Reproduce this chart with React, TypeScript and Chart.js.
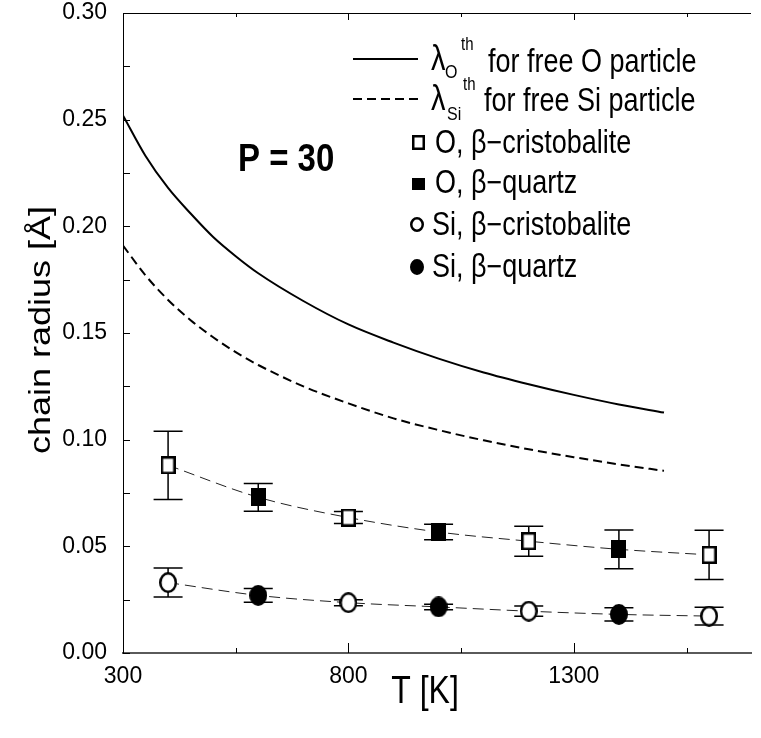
import React, { useEffect, useRef } from "react";
import { Chart, registerables } from "chart.js";

Chart.register(...registerables);

const FONT = '"Liberation Sans", Arial, Helvetica, sans-serif';

// Thermal wavelength of a free particle vs temperature
const curveT = [300, 350, 400, 450, 500, 550, 600, 700, 800, 900, 1000, 1100, 1200, 1300, 1400, 1500];
const lambdaO = [0.252, 0.233, 0.218, 0.206, 0.195, 0.186, 0.178, 0.165, 0.154, 0.1455, 0.138, 0.1315, 0.126, 0.121, 0.1165, 0.1127];
const lambdaSi = [0.191, 0.177, 0.1655, 0.156, 0.148, 0.141, 0.135, 0.125, 0.117, 0.11, 0.1045, 0.0997, 0.0955, 0.0918, 0.0884, 0.0854];

// Path-integral chain radii (P = 30) with error bars
const simT = [400, 600, 800, 1000, 1200, 1400, 1600];
const simPhase = ["cristobalite", "quartz", "cristobalite", "quartz", "cristobalite", "quartz", "cristobalite"];
const radiusO = [0.088, 0.073, 0.0635, 0.0567, 0.0524, 0.0486, 0.046];
const errorO = [0.016, 0.0065, 0.0028, 0.0036, 0.007, 0.0091, 0.0115];
const radiusSi = [0.033, 0.027, 0.0236, 0.0216, 0.0196, 0.0181, 0.0173];
const errorSi = [0.0068, 0.0032, 0.0014, 0.0013, 0.0024, 0.0031, 0.0042];

// Axis ticks
const xTickValues = [300, 800, 1300];
const xMinorValues = [550, 1050, 1550];
const yTickValues = [0, 0.05, 0.1, 0.15, 0.2, 0.25, 0.3];
const yMinorValues = [0.025, 0.075, 0.125, 0.175, 0.225, 0.275];

const legendLines = ["for free O particle", "for free Si particle"];
const legendMarkers = ["O, \u03b2\u2212cristobalite", "O, \u03b2\u2212quartz", "Si, \u03b2\u2212cristobalite", "Si, \u03b2\u2212quartz"];

function markerImage(shape: "square" | "circle", filled: boolean, w: number, h: number, lw = 2.5) {
  const c = document.createElement("canvas");
  c.width = w;
  c.height = h;
  const ctx = c.getContext("2d")!;
  ctx.lineWidth = lw;
  ctx.strokeStyle = "#000";
  ctx.fillStyle = filled ? "#000" : "#fff";
  ctx.beginPath();
  if (shape === "square") ctx.rect(lw / 2, lw / 2, w - lw, h - lw);
  else ctx.ellipse(w / 2, h / 2, w / 2 - lw / 2, h / 2 - lw / 2, 0, 0, Math.PI * 2);
  ctx.fill();
  ctx.stroke();
  return c;
}

function text(ctx: CanvasRenderingContext2D, s: string, x: number, y: number, size: number, bold = false, align: CanvasTextAlign = "left", sy = 1.2) {
  ctx.save();
  ctx.font = `${bold ? "bold " : ""}${size}px ${FONT}`;
  ctx.textAlign = align;
  ctx.textBaseline = "alphabetic";
  ctx.fillStyle = "#000";
  ctx.translate(x, y);
  ctx.scale(1, sy);
  ctx.fillText(s, 0, 0);
  ctx.restore();
}

const errorBars = {
  id: "errorBars",
  beforeDatasetsDraw(chart: any) {
    const { ctx, scales } = chart;
    const x = scales.x;
    const y = scales.y;
    ctx.save();
    ctx.strokeStyle = "#000";
    ctx.lineWidth = 1.5;
    const draw = (vals: number[], errs: number[]) =>
      simT.forEach((t, i) => {
        const px = x.getPixelForValue(t);
        const top = y.getPixelForValue(vals[i] + errs[i]);
        const bot = y.getPixelForValue(vals[i] - errs[i]);
        ctx.beginPath();
        ctx.moveTo(px, top);
        ctx.lineTo(px, bot);
        ctx.moveTo(px - 14.5, top);
        ctx.lineTo(px + 14.5, top);
        ctx.moveTo(px - 14.5, bot);
        ctx.lineTo(px + 14.5, bot);
        ctx.stroke();
      });
    draw(radiusO, errorO);
    draw(radiusSi, errorSi);
    ctx.restore();
  },
};

const frame = {
  id: "frame",
  afterDraw(chart: any) {
    const { ctx, chartArea: a, scales } = chart;
    const x = scales.x;
    const y = scales.y;
    ctx.save();
    ctx.strokeStyle = "#000";
    ctx.lineWidth = 1;
    ctx.beginPath();
    ctx.moveTo(a.left, Math.round(a.top) + 0.5);
    ctx.lineTo(a.right, Math.round(a.top) + 0.5);
    [...yTickValues, ...yMinorValues].forEach((v) => {
      const py = Math.round(y.getPixelForValue(v)) + 0.5;
      ctx.moveTo(a.left, py);
      ctx.lineTo(a.left + 7, py);
    });
    xTickValues.forEach((v) => {
      const px = Math.round(x.getPixelForValue(v)) + 0.5;
      ctx.moveTo(px, a.bottom);
      ctx.lineTo(px, a.bottom - 10);
      ctx.moveTo(px, a.top);
      ctx.lineTo(px, a.top + 7);
    });
    xMinorValues.forEach((v) => {
      const px = Math.round(x.getPixelForValue(v)) + 0.5;
      ctx.moveTo(px, a.bottom);
      ctx.lineTo(px, a.bottom - 5);
      ctx.moveTo(px, a.top);
      ctx.lineTo(px, a.top + 4);
    });
    ctx.stroke();
    ctx.restore();
  },
};

const annotations = {
  id: "annotations",
  afterDraw(chart: any) {
    const { ctx } = chart;
    // axis titles
    ctx.save();
    ctx.translate(50, 330);
    ctx.rotate(-Math.PI / 2);
    ctx.scale(1.2, 1);
    ctx.font = `30px ${FONT}`;
    ctx.textAlign = "center";
    ctx.textBaseline = "alphabetic";
    ctx.fillStyle = "#000";
    ctx.fillText("chain radius [\u00c5]", 0, 0);
    ctx.restore();
    text(ctx, "T [K]", 425, 703, 32, false, "center");
    text(ctx, "P = 30", 238, 171, 33, true);

    // legend: theory curves
    ctx.save();
    ctx.strokeStyle = "#000";
    ctx.lineWidth = 2;
    ctx.beginPath();
    ctx.moveTo(353, 59);
    ctx.lineTo(418, 59);
    ctx.stroke();
    ctx.setLineDash([9, 5]);
    ctx.beginPath();
    ctx.moveTo(353, 99);
    ctx.lineTo(418, 99);
    ctx.stroke();
    ctx.restore();

    text(ctx, "\u03bb", 431, 70, 29);
    text(ctx, "O", 445, 78, 16);
    text(ctx, "th", 461, 50, 15);
    text(ctx, legendLines[0], 488, 72, 27);

    text(ctx, "\u03bb", 431, 110, 29);
    text(ctx, "Si", 447, 120, 16);
    text(ctx, "th", 463, 90, 15);
    text(ctx, legendLines[1], 484, 111, 27);

    // legend: symbols
    const sq = markerImage("square", false, 13, 15, 2.5);
    const sqf = markerImage("square", true, 13, 12, 2.5);
    const ci = markerImage("circle", false, 14, 15, 2.5);
    const cif = markerImage("circle", true, 14, 16, 2.5);
    ctx.drawImage(sq, 412, 135);
    ctx.drawImage(sqf, 412, 178);
    ctx.drawImage(ci, 410, 217);
    ctx.drawImage(cif, 410, 259);
    text(ctx, legendMarkers[0], 435, 153, 27);
    text(ctx, legendMarkers[1], 435, 193, 27);
    text(ctx, legendMarkers[2], 432, 235, 27);
    text(ctx, legendMarkers[3], 432, 277, 27);
  },
};

export default function App() {
  const ref = useRef<HTMLCanvasElement>(null);

  useEffect(() => {
    const canvas = ref.current!;
    const openSquare = markerImage("square", false, 15, 18);
    const fullSquare = markerImage("square", true, 15, 18);
    const openCircle = markerImage("circle", false, 18, 21);
    const fullCircle = markerImage("circle", true, 18, 21);

    const pick = (vals: number[], phase: string) =>
      simT.map((t, i) => ({ x: t, y: vals[i], p: simPhase[i] })).filter((d) => d.p === phase).map((d) => ({ x: d.x, y: d.y }));

    const lineBase = { showLine: true, pointRadius: 0, borderColor: "#000", fill: false, cubicInterpolationMode: "monotone" as const, order: 2 };
    const markerBase = { showLine: false, pointRadius: 9, order: 1 };

    const chart = new Chart(canvas, {
      type: "scatter",
      data: {
        datasets: [
          { ...lineBase, label: "lambdaO", data: curveT.map((t, i) => ({ x: t, y: lambdaO[i] })), borderWidth: 2 },
          { ...lineBase, label: "lambdaSi", data: curveT.map((t, i) => ({ x: t, y: lambdaSi[i] })), borderWidth: 2, borderDash: [9, 5] },
          { ...lineBase, label: "fitO", data: simT.map((t, i) => ({ x: t, y: radiusO[i] })), borderWidth: 1, borderColor: "#222", borderDash: [11, 6] },
          { ...lineBase, label: "fitSi", data: simT.map((t, i) => ({ x: t, y: radiusSi[i] })), borderWidth: 1, borderColor: "#222", borderDash: [11, 6] },
          { ...markerBase, label: legendMarkers[0], data: pick(radiusO, "cristobalite"), pointStyle: openSquare },
          { ...markerBase, label: legendMarkers[1], data: pick(radiusO, "quartz"), pointStyle: fullSquare },
          { ...markerBase, label: legendMarkers[2], data: pick(radiusSi, "cristobalite"), pointStyle: openCircle },
          { ...markerBase, label: legendMarkers[3], data: pick(radiusSi, "quartz"), pointStyle: fullCircle },
        ] as any,
      },
      options: {
        animation: false,
        responsive: false,
        devicePixelRatio: 1,
        events: [],
        layout: { padding: { top: 0, right: 0, left: 0, bottom: 0 } },
        plugins: { legend: { display: false }, tooltip: { enabled: false } },
        scales: {
          x: {
            type: "linear",
            min: 300,
            max: 1693,
            afterBuildTicks: (s: any) => {
              s.ticks = xTickValues.map((v) => ({ value: v }));
            },
            afterFit: (s: any) => {
              s.height = 85;
              s.paddingLeft = 0;
              s.paddingRight = 0;
            },
            grid: { display: true, drawOnChartArea: false, drawTicks: false },
            border: { display: true, color: "#5a5a5a", width: 2 },
            ticks: {
              color: "#000",
              font: { family: FONT, size: 23 },
              padding: 10,
              maxRotation: 0,
              autoSkip: false,
              callback: (v: any) => String(v),
            },
          },
          y: {
            type: "linear",
            min: 0,
            max: 0.3,
            afterBuildTicks: (s: any) => {
              s.ticks = yTickValues.map((v) => ({ value: v }));
            },
            afterFit: (s: any) => {
              s.width = 123;
              s.paddingTop = 13;
              s.paddingBottom = 0;
            },
            grid: { display: true, drawOnChartArea: false, drawTicks: false },
            border: { display: true, color: "#000", width: 1 },
            ticks: {
              color: "#000",
              font: { family: FONT, size: 23 },
              padding: 16,
              autoSkip: false,
              callback: (v: any) => Number(v).toFixed(2),
            },
          },
        },
      } as any,
      plugins: [errorBars, frame, annotations],
    });
    return () => chart.destroy();
  }, []);

  return (
    <div style={{ position: "absolute", left: 0, top: 0, width: 761, height: 738, background: "#fff" }}>
      <canvas ref={ref} width={761} height={738} style={{ display: "block" }} />
    </div>
  );
}
